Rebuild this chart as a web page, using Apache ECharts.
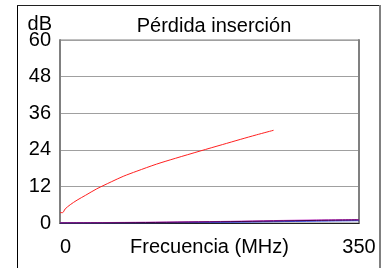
<!DOCTYPE html>
<html>
<head>
<meta charset="utf-8">
<script src="https://cdn.jsdelivr.net/npm/echarts@6/dist/echarts.min.js"></script>
<style>
  html, body { margin: 0; padding: 0; background: #fff; }
  #chart { width: 391px; height: 268px; }
</style>
</head>
<body>
<div id="chart"></div>
<script>
    // insertion loss, frequency in MHz -> dB
    var titleText = 'Pérdida inserción';
    var xName = 'Frecuencia (MHz)';
    var yName = 'dB';
    var xMin = 0, xMax = 350;
    var yMin = 0, yMax = 60, yStep = 12;

    var lossRed = [[0, 3.4], [3, 3.4], [6, 4.6], [12, 6.0], [20, 7.5], [30, 9.1], [43, 11.2], [60, 13.5],
        [74, 15.3], [90, 17.0], [113, 19.3], [135, 21.2], [164, 23.6], [190, 25.7], [211, 27.4], [230, 28.9], [250, 30.4]];
    var lossDark = [[0, 0], [50, 0.05], [100, 0.15], [150, 0.3], [200, 0.45], [250, 0.65], [300, 0.85], [350, 1.0]];
    var lossMagenta = [[0, 0.1], [50, 0.15], [100, 0.25], [150, 0.4], [200, 0.55], [250, 0.8], [300, 1.0], [350, 1.15]];
    var lossBlue = [[0, 0], [100, 0.05], [200, 0.25], [300, 0.6], [350, 0.75]];
    var lossViolet = [[0, 0.05], [100, 0.1], [200, 0.35], [300, 0.75], [350, 0.9]];

    var chart = echarts.init(document.getElementById('chart'), null, { renderer: 'canvas' });

    function lineSeries(name, data, color) {
        return {
            name: name,
            type: 'line',
            data: data,
            showSymbol: false,
            smooth: 0.3,
            animation: false,
            lineStyle: { color: color, width: 1 },
            z: 3
        };
    }

    var font = 'Liberation Sans, Arial, sans-serif';

    var option = {
        backgroundColor: '#fff',
        animation: false,
        textStyle: { fontFamily: font },
        title: {
            text: titleText,
            left: 209,
            top: 11,
            textAlign: 'center',
            textStyle: { fontSize: 20, fontWeight: 'normal', color: '#000', fontFamily: font }
        },
        grid: {
            left: 60, top: 40, right: 32, bottom: 45,
            containLabel: false,
            outerBoundsMode: 'none',
            show: true,
            borderColor: '#808080',
            borderWidth: 1
        },
        xAxis: {
            type: 'value',
            min: xMin, max: xMax, interval: xMax,
            name: xName,
            nameLocation: 'middle',
            nameGap: 14,
            nameMoveOverlap: false,
            nameTextStyle: { fontSize: 20, color: '#000', verticalAlign: 'top', fontFamily: font },
            axisLine: { show: true, lineStyle: { color: '#202020', width: 1 } },
            axisTick: { show: false },
            splitLine: { show: false },
            axisLabel: { fontSize: 20, color: '#000', margin: 14, alignMinLabel: 'left', fontFamily: font }
        },
        yAxis: [{
            type: 'value',
            min: yMin, max: yMax, interval: yStep,
            name: yName,
            nameLocation: 'end',
            nameGap: 6,
            nameMoveOverlap: false,
            nameTextStyle: { fontSize: 20, color: '#000', align: 'right', padding: [0, 8, 0, 0], fontFamily: font },
            axisLine: { show: true, lineStyle: { color: '#808080', width: 2 } },
            axisTick: { show: false },
            splitLine: { show: true, lineStyle: { color: '#a0a0a0', width: 1 } },
            axisLabel: { fontSize: 20, color: '#000', margin: 9, padding: [4, 0, 0, 0], fontFamily: font }
        }, {
            type: 'value',
            position: 'right',
            min: yMin, max: yMax, interval: yStep,
            axisLine: { show: true, lineStyle: { color: '#808080', width: 2 } },
            axisTick: { show: false },
            axisLabel: { show: false },
            splitLine: { show: false }
        }],
        graphic: [
            { type: 'line', shape: { x1: 17.5, y1: 5, x2: 17.5, y2: 268 }, style: { stroke: '#000', lineWidth: 1 } },
            { type: 'line', shape: { x1: 17, y1: 5.5, x2: 381, y2: 5.5 }, style: { stroke: '#202020', lineWidth: 1 } },
            { type: 'line', shape: { x1: 380, y1: 5, x2: 380, y2: 268 }, style: { stroke: '#808080', lineWidth: 2 } }
        ],
        series: [
            lineSeries('violet', lossViolet, '#9050c0'),
            lineSeries('blue', lossBlue, '#3050e0'),
            lineSeries('magenta', lossMagenta, '#c030c0'),
            lineSeries('dark', lossDark, '#4a0050'),
            lineSeries('red', lossRed, '#ff2020')
        ]
    };

    chart.setOption(option);
</script>
</body>
</html>
